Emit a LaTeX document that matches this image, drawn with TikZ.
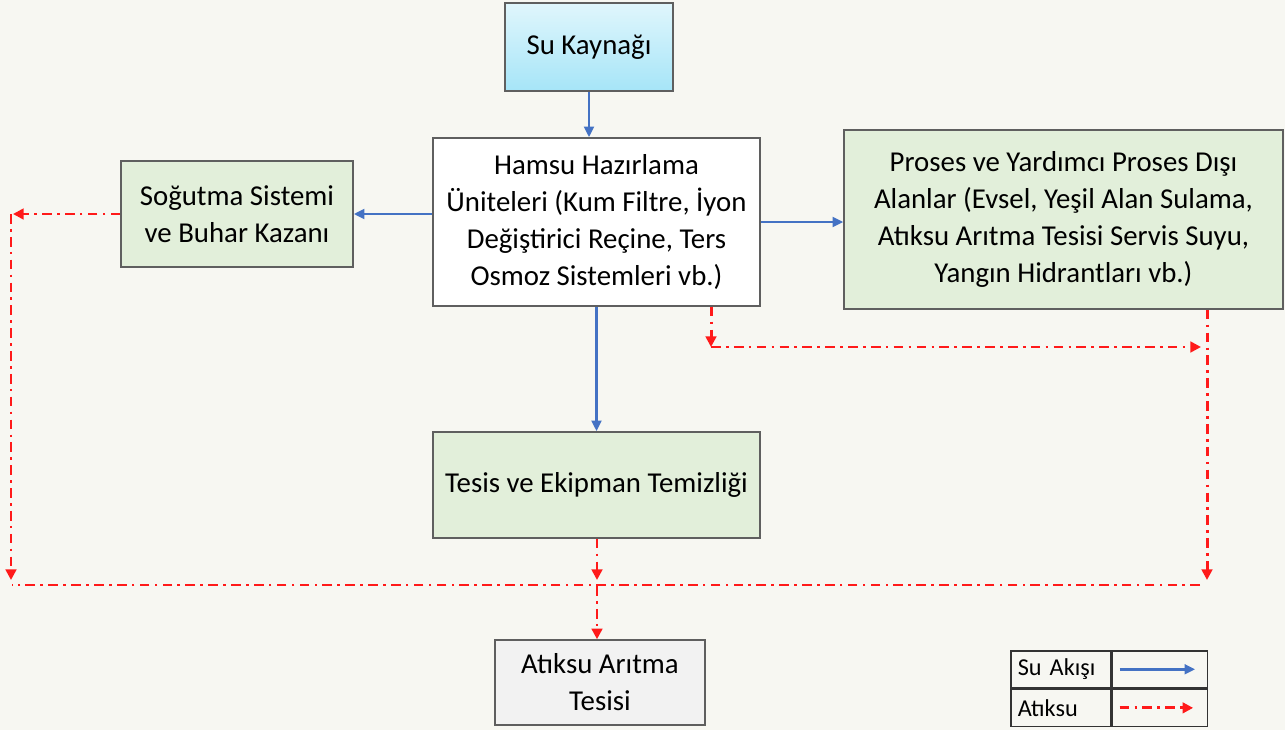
\documentclass[tikz,border=0pt]{standalone}
\usepackage{fontspec}
\setmainfont{Carlito}
\usetikzlibrary{arrows.meta,positioning}
\definecolor{zemin}{HTML}{F7F7F2}
\definecolor{suyu}{HTML}{4472C4}
\definecolor{atik}{HTML}{FF1A1A}
\definecolor{yesil}{HTML}{E2EFDA}
\definecolor{cerceve}{HTML}{5F5F5F}
\definecolor{kaynakust}{HTML}{E0F6FC}
\definecolor{kaynakalt}{HTML}{A6E5F8}

\begin{document}
\begin{tikzpicture}[x=0.02cm,y=-0.02cm]
  \tikzstyle{kutu}=[rectangle,draw=cerceve,line width=0.9pt,align=center,inner sep=0pt,font=\fontsize{16.4}{21}\selectfont]
  \tikzstyle{yesilkutu}=[kutu,fill=yesil]
  \tikzstyle{akis}=[draw=suyu,line width=1.6pt,-{Triangle[length=6pt,width=5.5pt]}]
  \tikzstyle{atiksu}=[draw=atik,line width=1.7pt,dash pattern=on 5.5pt off 3pt on 1.5pt off 3pt]
  \tikzstyle{atikok}=[atiksu,-{Triangle[length=6pt,width=6pt]}]
  \tikzstyle{lejant}=[rectangle,draw=black!80,line width=0.9pt,minimum height=0.74cm,font=\fontsize{13.8}{15}\selectfont]
  \fill[zemin] (0,0) rectangle (1285,730);
  \node[kutu,minimum width=3.36cm,minimum height=1.76cm,top color=kaynakust,bottom color=kaynakalt] (kaynak) at (589,47) {Su Kaynağı};
  \node[kutu,fill=white,minimum width=6.54cm,minimum height=3.36cm] (hamsu) at (596.5,222) {Hamsu Hazırlama\\Üniteleri (Kum Filtre, İyon\\Değiştirici Reçine, Ters\\Osmoz Sistemleri vb.)};
  \node[yesilkutu,minimum width=4.64cm,minimum height=2.12cm] (sogutma) at (237,214) {Soğutma Sistemi\\ve Buhar Kazanı};
  \node[yesilkutu,minimum width=8.78cm,minimum height=3.58cm] (proses) at (1063.5,219.5) {Proses ve Yardımcı Proses Dışı\\Alanlar (Evsel, Yeşil Alan Sulama,\\Atıksu Arıtma Tesisi Servis Suyu,\\Yangın Hidrantları vb.)};
  \node[yesilkutu,minimum width=6.54cm,minimum height=2.12cm] (tesis) at (596.5,485) {Tesis ve Ekipman Temizliği};
  \node[kutu,fill=black!5,minimum width=4.2cm,minimum height=1.7cm] (aritma) at (600,682.5) {Atıksu Arıtma\\Tesisi};

  \node[lejant,anchor=north west,text width=1.72cm,inner xsep=0.14cm,align=left] (suakisi) at (1010,650) {Su Akışı};
  \node[lejant,below=0pt of suakisi,text width=1.72cm,inner xsep=0.14cm,align=left] (atiksuleg) {Atıksu};
  \node[lejant,right=0pt of suakisi,minimum width=1.9cm] (mavicizgi) {};
  \node[lejant,right=0pt of atiksuleg,minimum width=1.9cm] (kirmizicizgi) {};
  \draw[akis] ([xshift=0.16cm]mavicizgi.west) -- ([xshift=-0.26cm]mavicizgi.east);
  \draw[atikok] ([xshift=0.16cm]kirmizicizgi.west) -- ([xshift=-0.3cm]kirmizicizgi.east);

  \draw[akis] (kaynak.south) -- (kaynak.south |- hamsu.north);
  \draw[akis] (hamsu.west |- sogutma.east) -- (sogutma.east);
  \draw[akis] (hamsu.east) -- (hamsu.east -| proses.west);
  \draw[akis] (hamsu.south) -- (tesis.north);

  \coordinate (k1) at (711,347);
  \coordinate (k2) at (1201,347);
  \coordinate (k3) at (1207,580);
  \coordinate (k4) at (1200,585);
  \coordinate (k5) at (12,585);
  \coordinate (k6) at (13,216);
  \coordinate (k7) at (11,580);
  \coordinate (k8) at (597,580);
  \coordinate (k9) at (597,586);
  \draw[atikok] (hamsu.south -| k1) -- (k1);
  \draw[atikok] (k1) -- (k2);
  \draw[atikok] (proses.south -| k3) -- (k3);
  \draw[atiksu] (k4) -- (k5);
  \draw[atikok] (sogutma.west) -- (sogutma.west -| k6);
  \draw[atikok] (sogutma.west -| k7) -- (k7);
  \draw[atikok] (tesis.south -| k8) -- (k8);
  \draw[atikok] (k9) -- (k9 |- aritma.north);
\end{tikzpicture}
\end{document}
